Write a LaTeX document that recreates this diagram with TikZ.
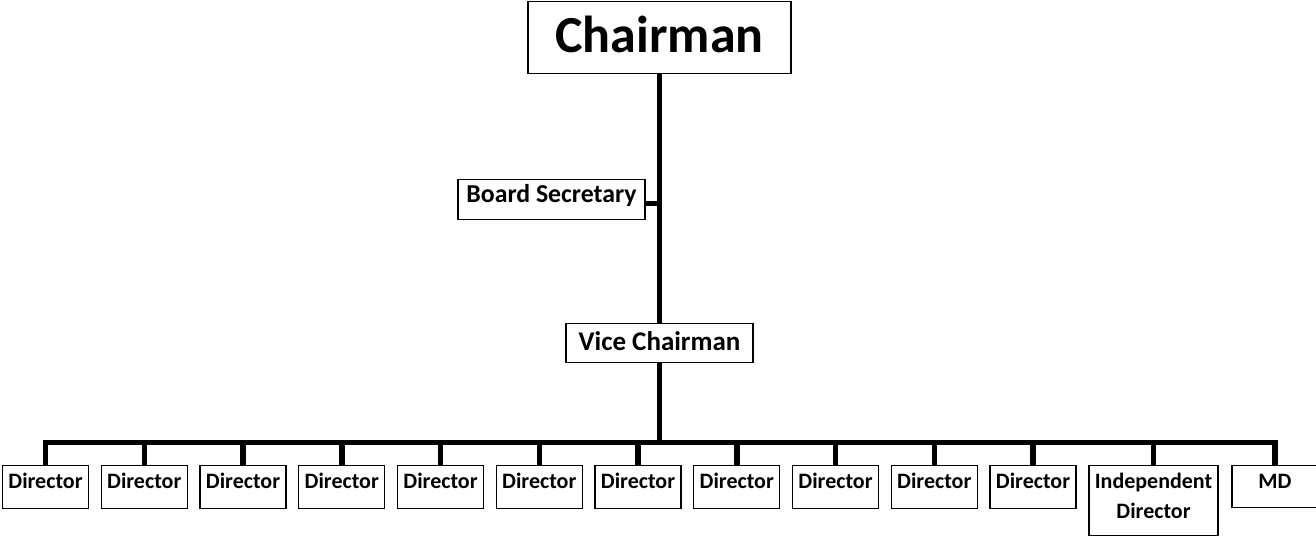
\documentclass[tikz,border=0pt]{standalone}
\usepackage{fontspec}
\setmainfont{Carlito}
\begin{document}
\begin{tikzpicture}[x=1pt,y=1pt,yscale=-1,xscale=1,
  post/.style={draw,line width=1.3pt,anchor=north,inner xsep=0pt,inner ysep=4pt,
    font=\bfseries\fontsize{22}{30}\selectfont,text height=19pt,text depth=16pt},
  link/.style={line width=5.5pt}]
\useasboundingbox (0,0) rectangle (1316,536);

% Chairman
\node [post,minimum width=263pt,font=\bfseries\fontsize{52}{60}\selectfont,text height=47pt,text depth=17pt] (chair) at (659.5,1) {Chairman};
% Board Secretary
\node [post,minimum width=187pt,font=\bfseries\fontsize{25.8}{30}\selectfont,text depth=13pt] (sec) at (551.5,179) {Board Secretary};
% Vice Chairman
\node [post,minimum width=187pt,font=\bfseries\fontsize{27}{30}\selectfont,text height=23pt,text depth=8pt] (vice) at (659.5,323) {Vice Chairman};

% Directors
\foreach \i in {1,...,11}
  \node [post,minimum width=86pt] (d\i) at ({45.5+98.75*(\i-1)},465) {Director};
\node [post,minimum width=129pt,align=center,text height=49pt,text depth=13pt] (ind) at (1153.5,465) {Independent\\Director};
\node [post,minimum width=86pt,text depth=15pt] (md) at (1275,465) {MD};

% Lines
\coordinate (bus) at (659.5,442.5);
\draw [link] (chair.south) -- (vice.north);
\draw [link] ([yshift=4pt]sec.east) -- ([yshift=4pt]sec.east -| chair.south);
\draw [link] (vice.south) -- (bus);
\draw [link] (d1.north) |- (bus) -| (md.north);
\foreach \i in {2,...,11}
  \draw [link] (d\i.north) -- (d\i.north |- bus);
\draw [link] (ind.north) -- (ind.north |- bus);

\end{tikzpicture}
\end{document}
